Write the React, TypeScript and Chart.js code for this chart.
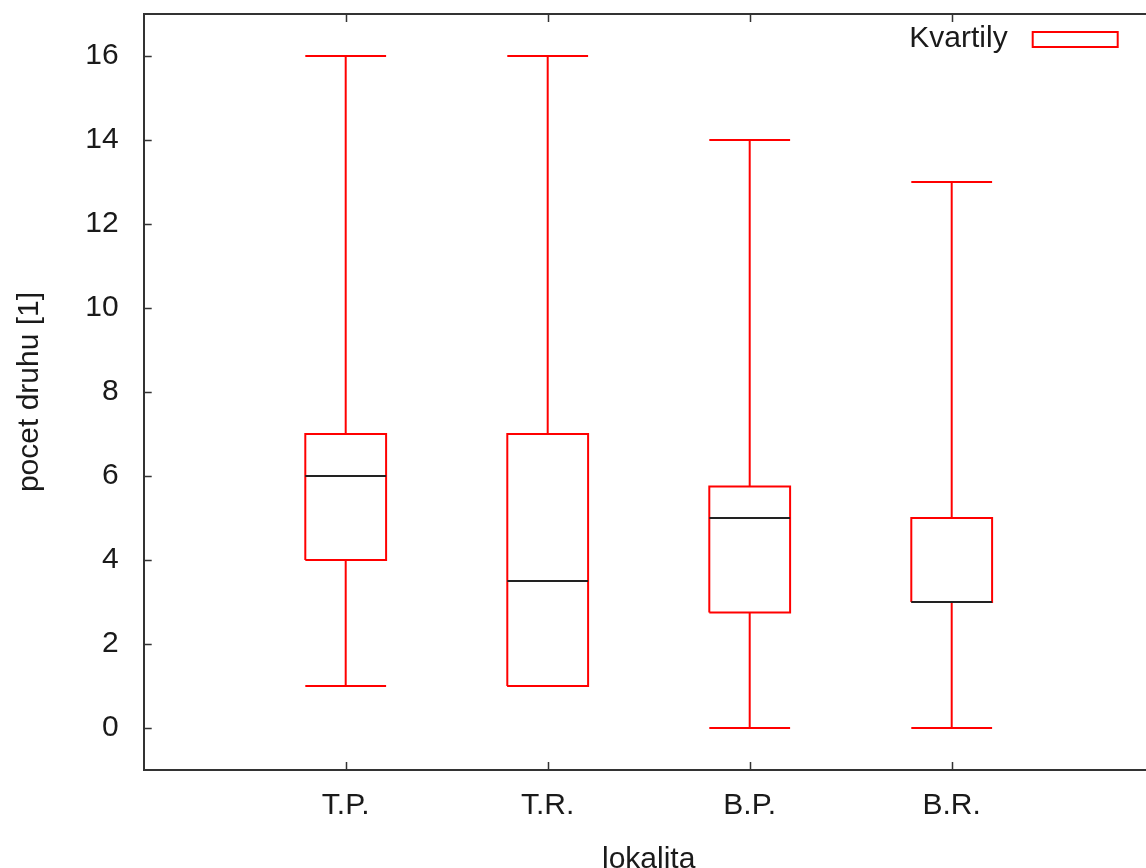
import React, { useEffect, useRef } from 'react';
import { Chart, registerables } from 'chart.js';

Chart.register(...registerables);

// ---- data ----
const categories = ['T.P.', 'T.R.', 'B.P.', 'B.R.'];
const minimums = [1, 1, 0, 0];
const lowerQuartiles = [4, 1, 2.75, 3];
const medians = [6, 3.5, 5, 3];
const upperQuartiles = [7, 7, 5.75, 5];
const maximums = [16, 16, 14, 13];
const yTickValues = [0, 2, 4, 6, 8, 10, 12, 14, 16];
const legendLabel = 'Kvartily';
const xTitle = 'lokalita';
const yTitle = 'pocet druhu [1]';

// ---- style ----
const FONT_FAMILY = '"Liberation Sans", Arial, sans-serif';
const FONT_SIZE = 30;
const TEXT_COLOR = '#1a1a1a';
const AXIS_COLOR = '#333333';
const RED = '#ff0000';
const HALF = 0.2;

type Pt = { x: number; y: number | null };

const buildWhiskers = (): Pt[] =>
  categories.flatMap((_, i) => {
    const x = i + 1;
    return [
      { x: x - HALF, y: maximums[i] }, { x: x + HALF, y: maximums[i] }, { x, y: null },
      { x, y: maximums[i] }, { x, y: upperQuartiles[i] }, { x, y: null },
      { x, y: lowerQuartiles[i] }, { x, y: minimums[i] }, { x, y: null },
      { x: x - HALF, y: minimums[i] }, { x: x + HALF, y: minimums[i] }, { x, y: null },
    ];
  });

const buildBoxes = (): Pt[] =>
  categories.flatMap((_, i) => {
    const x = i + 1;
    return [
      { x: x - HALF, y: lowerQuartiles[i] },
      { x: x + HALF, y: lowerQuartiles[i] },
      { x: x + HALF, y: upperQuartiles[i] },
      { x: x - HALF, y: upperQuartiles[i] },
      { x: x - HALF, y: lowerQuartiles[i] },
      { x, y: null },
    ];
  });

const buildMedians = (): Pt[] =>
  categories.flatMap((_, i) => {
    const x = i + 1;
    return [{ x: x - HALF, y: medians[i] }, { x: x + HALF, y: medians[i] }, { x, y: null }];
  });

const framePlugin = {
  id: 'gnuplotFrame',
  afterDraw(chart: any) {
    const { ctx, chartArea: a, scales } = chart;
    const xs = scales.x;
    const ys = scales.y;
    ctx.save();
    ctx.strokeStyle = AXIS_COLOR;
    ctx.lineWidth = 2;
    ctx.beginPath();
    ctx.moveTo(a.left, a.top);
    ctx.lineTo(a.right, a.top);
    ctx.lineTo(a.right, a.bottom);
    ctx.stroke();
    ctx.lineWidth = 1.5;
    ctx.beginPath();
    const tl = 8;
    xs.ticks.forEach((t: any) => {
      const px = Math.round(xs.getPixelForValue(t.value)) + 0.5;
      ctx.moveTo(px, a.bottom);
      ctx.lineTo(px, a.bottom - tl);
      ctx.moveTo(px, a.top);
      ctx.lineTo(px, a.top + tl);
    });
    ys.ticks.forEach((t: any) => {
      const py = Math.round(ys.getPixelForValue(t.value)) + 0.5;
      ctx.moveTo(a.left, py);
      ctx.lineTo(a.left + tl, py);
    });
    ctx.stroke();

    // legend (inside plot, top right)
    const rectRight = a.right - 36;
    const rectW = 85;
    const rectH = 15;
    const rectTop = a.top + 18;
    ctx.strokeStyle = RED;
    ctx.lineWidth = 2;
    ctx.strokeRect(rectRight - rectW, rectTop, rectW, rectH);
    ctx.fillStyle = TEXT_COLOR;
    ctx.font = `${FONT_SIZE}px ${FONT_FAMILY}`;
    ctx.textAlign = 'right';
    ctx.textBaseline = 'alphabetic';
    ctx.fillText(legendLabel, rectRight - rectW - 25, a.top + 33);
    ctx.restore();
  },
};

export default function App() {
  const ref = useRef<HTMLCanvasElement | null>(null);

  useEffect(() => {
    if (!ref.current) return;
    const font = { family: FONT_FAMILY, size: FONT_SIZE };
    const chart = new Chart(ref.current, {
      type: 'scatter',
      data: {
        datasets: [
          {
            label: 'median',
            data: buildMedians() as any,
            showLine: true,
            borderColor: '#222222',
            borderWidth: 2,
            pointRadius: 0,
            order: 0,
          },
          {
            label: legendLabel,
            data: buildBoxes() as any,
            showLine: true,
            borderColor: RED,
            borderWidth: 2,
            borderJoinStyle: 'miter',
            pointRadius: 0,
            order: 1,
          },
          {
            label: 'whiskers',
            data: buildWhiskers() as any,
            showLine: true,
            borderColor: RED,
            borderWidth: 2,
            pointRadius: 0,
            order: 2,
          },
        ],
      },
      options: {
        responsive: false,
        animation: false,
        devicePixelRatio: 1,
        layout: { padding: { top: 14, right: 6.3, left: 0, bottom: 0 } },
        plugins: {
          legend: { display: false },
          tooltip: { enabled: false },
        },
        scales: {
          x: {
            type: 'linear',
            min: 0,
            max: 5,
            grid: { display: false, drawTicks: false },
            border: { display: true, color: AXIS_COLOR, width: 2 },
            afterBuildTicks: (s: any) => {
              s.ticks = categories.map((_, i) => ({ value: i + 1 }));
            },
            afterFit: (s: any) => {
              s.height = 98;
              s.paddingLeft = 0;
              s.paddingRight = 0;
            },
            ticks: {
              font,
              color: TEXT_COLOR,
              padding: 18,
              autoSkip: false,
              maxRotation: 0,
              callback: (v: any) => categories[Number(v) - 1] ?? '',
            },
            title: {
              display: true,
              text: xTitle,
              font: { ...font, lineHeight: 0.53 },
              color: TEXT_COLOR,
              padding: { top: 0, bottom: 0 },
            },
          },
          y: {
            type: 'linear',
            min: -1,
            max: 17,
            grid: { display: false, drawTicks: false },
            border: { display: true, color: AXIS_COLOR, width: 2 },
            afterBuildTicks: (s: any) => {
              s.ticks = yTickValues.map((v) => ({ value: v }));
            },
            afterFit: (s: any) => {
              s.width = 143.7;
              s.paddingTop = 0;
              s.paddingBottom = 0;
            },
            ticks: {
              font,
              color: TEXT_COLOR,
              padding: 25,
              autoSkip: false,
            },
            title: {
              display: true,
              text: yTitle,
              font: { ...font, lineHeight: 0.8 },
              color: TEXT_COLOR,
              padding: { top: 18, bottom: 0 },
            },
          },
        },
      } as any,
      plugins: [framePlugin],
    });
    return () => chart.destroy();
  }, []);

  return (
    <div
      style={{
        position: 'absolute',
        left: 0,
        top: 0,
        width: 1146,
        height: 868,
        overflow: 'hidden',
        background: '#ffffff',
      }}
    >
      <canvas ref={ref} width={1160} height={868} style={{ display: 'block' }} />
    </div>
  );
}
